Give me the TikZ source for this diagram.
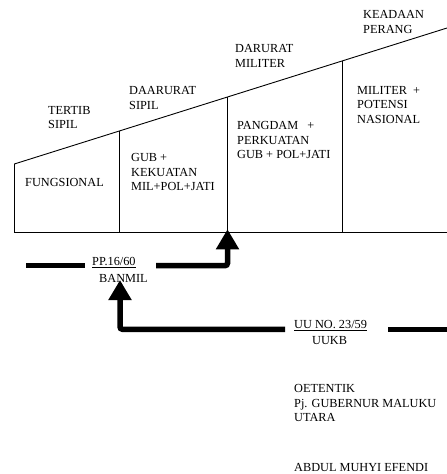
\documentclass[tikz,border=0pt]{standalone}
\usepackage{fontspec}
\setmainfont{Liberation Serif}
\usetikzlibrary{arrows.meta}
\begin{document}
\begin{tikzpicture}[x=1pt,y=-1pt,
  lbl/.style={anchor=west,inner sep=0pt,align=left,font=\fontsize{12.3}{14.2}\selectfont},
  box/.style={line width=0.9pt},
  bar/.style={line width=5.5pt},
  bigarrow/.style={line width=5.5pt,rounded corners=2.5pt,-{Triangle[width=22pt,length=20pt]}}]
\useasboundingbox (0,0) rectangle (447,474);
% frame
\coordinate (bl) at (14.3,232.3);
\coordinate (tl) at (14.3,164);
\coordinate (br) at (447,232.3);
\coordinate (tr) at (447,28);
\coordinate (d1t) at (119.3,131);
\coordinate (d1b) at (119.3,232.3);
\coordinate (d2t) at (227.5,97);
\coordinate (d2b) at (227.5,232.3);
\coordinate (d3t) at (342,61);
\coordinate (d3b) at (342,232.3);
\draw[box] (tl) -- (bl) -- (br);
\draw[box] (tl) -- (tr);
\draw[box] (d1t) -- (d1b);
\draw[box] (d2t) -- (d2b);
\draw[box] (d3t) -- (d3b);
% labels above
\node[lbl] (t1) at (48,117.5) {TERTIB\\SIPIL};
\node[lbl] (t2) at (129,98) {DAARURAT\\SIPIL};
\node[lbl] (t3) at (235,56) {DARURAT\\MILITER};
\node[lbl] (t4) at (363,22) {KEADAAN\\PERANG};
% labels inside
\node[lbl] (c1) at (25,182) {FUNGSIONAL};
\node[lbl] (c2) at (131,172) {GUB +\\KEKUATAN\\MIL+POL+JATI};
\node[lbl] (c3) at (237,140) {PANGDAM~~ +\\PERKUATAN\\GUB + POL+JATI};
\node[lbl] (c4) at (357,105) {MILITER~ +\\POTENSI\\NASIONAL};
% PP 16/60
\node[lbl] (pp) at (92,262.5) {\underline{PP.16/60}};
\node[lbl] (ban) at (99,278) {BANMIL};
\coordinate (b1a) at (26,265.7);
\coordinate (b1b) at (85,265.7);
\draw[bar] (b1a) -- (b1b);
\coordinate (a1s) at (156,265.7);
\draw[bigarrow] (a1s) -| ([yshift=3pt]d2b);
% UU
\node[lbl] (uu) at (294,326) {\underline{UU NO. 23/59}};
\node[lbl] (uukb) at (312,340.5) {UUKB};
\coordinate (b2a) at (388,329.3);
\coordinate (b2b) at (447,329.3);
\draw[bar] (b2a) -- (b2b);
\coordinate (a2s) at (285,329.3);
\coordinate (a2e) at (120,280);
\draw[bigarrow] (a2s) -| (a2e);
% signature
\node[lbl] (sig) at (294,403) {OETENTIK\\Pj. GUBERNUR MALUKU\\UTARA};
\node[lbl] (name) at (294,467) {ABDUL MUHYI EFENDI};
\end{tikzpicture}
\end{document}
